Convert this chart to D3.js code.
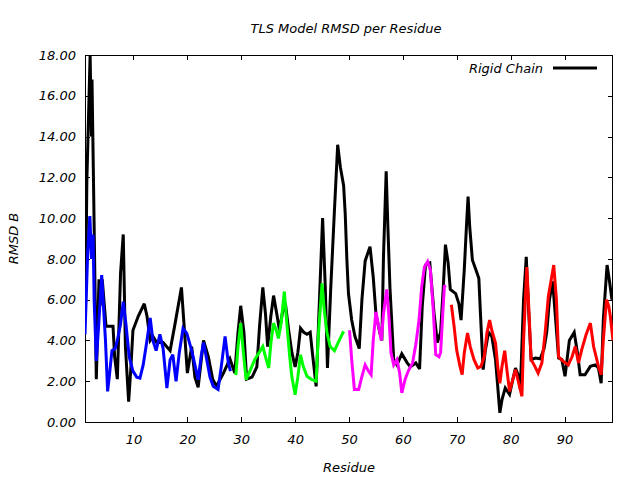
<!DOCTYPE html>
<html><head><meta charset="utf-8">
<script src="https://cdn.jsdelivr.net/npm/d3@7"></script>
<style>
html,body{margin:0;padding:0;background:#fff;}
text{font-family:"DejaVu Sans",sans-serif;font-style:italic;font-size:13px;fill:#000;}
</style></head>
<body>
<script>
const title = "TLS Model RMSD per Residue";
const xLabel = "Residue";
const yLabel = "RMSD B";
const legendLabel = "Rigid Chain";
const xTicks = [10,20,30,40,50,60,70,80,90];
const yTicks = [0,2,4,6,8,10,12,14,16,18];

// Rigid chain (black)
const blackRes = [1.1,1.35,1.95,2.2,2.3,2.6,3.1,3.6,3.8,4.2,4.9,5.7,6.2,6.5,7.0,7.6,8.1,8.5,9.1,9.5,9.9,10.9,12.0,12.5,13.1,13.6,14.3,15.5,16.8,17.7,18.9,19.4,20.0,20.8,21.4,22.0,23.0,23.9,24.7,25.4,26.7,27.9,28.8,29.4,29.9,30.5,31.0,32.0,32.9,33.4,34.0,34.5,34.9,35.5,36.0,36.6,37.1,37.6,38.2,38.8,39.4,40.0,40.5,41.0,41.6,42.2,42.8,43.2,43.9,44.3,44.8,45.1,45.6,46.0,46.6,47.3,47.9,48.4,49.0,49.3,49.6,49.9,50.5,51.1,51.9,52.4,53.0,53.9,54.5,55.0,55.7,56.1,56.4,56.9,57.2,57.6,58.3,58.9,59.8,60.8,61.4,62.4,63.1,63.6,64.2,65.0,65.8,66.4,67.0,67.5,67.9,68.4,68.8,69.8,70.4,70.8,71.4,71.8,72.1,72.4,72.9,73.5,74.1,74.4,74.9,75.3,75.9,76.5,77.2,77.5,78.0,78.4,79.0,79.8,80.4,80.9,81.5,81.8,82.4,82.9,83.3,83.8,84.6,85.5,86.2,86.7,87.2,87.8,88.3,88.9,89.5,90.1,90.9,91.8,92.4,92.9,93.8,94.8,95.7,96.3,96.8,97.2,97.9,98.3,98.8,99.0];
const blackVal = [5.7,11.9,18.0,14.0,16.8,11.4,2.1,7.0,5.7,7.0,4.7,4.7,4.7,3.2,2.1,7.3,9.2,3.7,1.0,2.6,4.5,5.2,5.8,5.2,4.0,4.2,3.9,3.9,3.5,4.8,6.6,4.7,2.4,3.7,2.2,1.7,4.0,3.2,2.1,1.75,2.4,3.1,2.4,4.4,5.7,4.4,2.1,2.2,2.7,4.7,6.6,5.3,3.7,5.2,6.2,5.3,4.5,5.3,5.8,4.5,3.4,2.7,3.4,4.6,4.4,4.3,4.4,3.4,1.75,4.5,7.95,10.0,6.6,2.65,6.5,10.4,13.6,12.5,11.6,10.2,8.0,6.3,5.0,4.2,3.6,6.0,7.9,8.6,7.1,5.3,4.4,4.0,8.1,12.3,9.7,6.6,3.06,2.8,3.35,2.9,2.7,2.9,2.6,5.7,7.7,7.8,5.3,3.9,4.4,6.6,8.7,7.8,6.5,6.3,5.8,5.0,7.5,9.6,11.05,9.6,7.95,7.5,7.05,5.3,2.57,3.5,4.4,4.2,3.05,2.08,0.45,1.1,1.67,1.35,2.08,2.65,2.24,1.6,6.0,8.1,5.7,3.06,3.14,3.1,3.6,4.4,6.0,6.9,5.2,3.14,3.06,2.24,4.0,4.4,3.4,2.32,2.32,2.73,2.8,2.65,1.9,5.0,7.7,7.0,6.0,6.2];

// TLS group 1 (blue)
const blueRes = [1.0,1.5,1.9,2.2,2.5,2.7,3.1,3.5,4.1,4.4,4.8,5.2,5.5,6.0,6.6,7.0,7.6,8.1,8.6,9.2,9.9,10.6,11.2,11.8,12.5,13.1,13.6,14.2,14.9,15.5,16.2,16.8,17.3,17.9,18.5,19.2,19.9,20.8,21.4,22.0,22.6,23.0,23.6,24.2,24.8,25.7,26.3,27.0,27.6,28.0];
const blueVal = [4.3,8.3,10.1,8.0,9.2,6.0,3.0,4.6,7.2,5.8,4.0,1.5,2.2,3.5,3.6,4.0,4.8,5.9,4.8,3.2,2.5,2.2,2.15,2.8,4.0,5.1,4.0,3.5,4.3,3.6,1.66,3.05,3.3,2.0,3.4,4.6,4.35,3.5,2.8,2.07,3.3,3.9,3.05,2.2,1.75,1.6,2.73,4.2,2.9,2.5];

// TLS group 2 (green)
const greenRes = [29.0,29.4,29.9,30.4,30.9,31.6,32.5,33.3,34.0,34.5,35.1,35.5,36.0,36.5,36.9,37.4,38.0,38.5,39.0,39.4,40.0,40.5,41.0,41.5,42.2,43.1,43.9,44.3,45.0,45.4,45.9,46.5,47.3,48.1,49.0];
const greenVal = [2.3,3.7,4.85,3.4,2.08,2.5,3.06,3.4,3.7,3.2,2.65,3.87,4.85,4.5,4.1,4.85,6.4,4.7,3.2,2.2,1.34,2.2,3.3,2.73,2.24,2.08,2.0,4.2,6.8,5.5,4.4,3.7,3.5,3.95,4.45];

// TLS group 3 (magenta)
const magentaRes = [50.1,50.5,51.0,51.8,52.4,53.0,53.6,54.1,54.5,55.0,55.5,56.0,56.4,57.0,57.4,57.8,58.3,58.9,59.4,59.8,60.4,61.0,61.8,62.4,63.0,63.5,64.0,64.6,65.1,65.6,66.1,66.7,67.0,67.4,67.7,68.0];
const magentaVal = [4.5,3.06,1.6,1.6,2.24,2.8,2.5,2.32,4.0,5.4,4.7,4.0,5.3,6.5,5.2,3.4,2.8,3.06,2.4,1.43,2.08,2.5,2.9,3.8,5.0,6.65,7.6,7.87,7.46,5.67,3.3,3.2,3.4,5.3,6.65,6.7];

// TLS group 4 (red)
const redRes = [69.0,69.5,70.0,70.6,71.0,71.4,72.0,72.5,73.2,73.9,74.5,75.1,75.6,76.1,76.5,77.2,77.6,78.0,78.4,78.9,79.3,79.8,80.4,80.9,81.5,82.1,82.4,83.0,83.3,83.8,84.5,85.1,85.8,86.4,87.0,88.0,88.5,88.9,89.8,90.7,91.4,92.0,92.6,93.2,94.0,94.8,95.4,96.3,96.8,97.2,97.8,98.2,98.5,99.0];
const redVal = [5.75,4.7,3.5,2.73,2.32,3.4,4.36,3.7,3.06,2.65,2.73,3.2,4.36,5.0,4.5,3.87,2.73,1.9,2.73,3.5,2.57,1.5,2.08,2.57,1.9,1.26,4.0,7.6,6.0,3.06,2.73,2.4,2.9,4.36,6.16,7.7,6.0,3.2,2.97,2.8,3.2,3.7,2.9,3.55,4.28,4.85,3.7,2.73,2.32,4.0,6.0,5.7,5.2,4.0];

const series = [
  {res: blackRes, val: blackVal, color: "#000000"},
  {res: blueRes, val: blueVal, color: "#0000ff"},
  {res: greenRes, val: greenVal, color: "#00ff00"},
  {res: magentaRes, val: magentaVal, color: "#ff00ff"},
  {res: redRes, val: redVal, color: "#ff0000"}
];

const W = 640, H = 480;
const m = {left: 85, right: 613, top: 55, bottom: 422};

const svg = d3.select("body").append("svg").attr("width", W).attr("height", H);
const x = d3.scaleLinear().domain([1, 99]).range([m.left, m.right]);
const y = d3.scaleLinear().domain([0, 18]).range([m.bottom, m.top]);

svg.append("defs").append("clipPath").attr("id","clip")
  .append("rect").attr("x", m.left).attr("y", m.top).attr("width", m.right-m.left).attr("height", m.bottom-m.top);

// axes: inward ticks, labels
const tl = 5;
const fmt = d3.format(".2f");
const gx = svg.append("g").attr("transform", `translate(0,${m.bottom})`)
  .call(d3.axisBottom(x).tickValues(xTicks).tickSize(-tl).tickPadding(13).tickFormat(d3.format("d")));
const gxt = svg.append("g").attr("transform", `translate(0,${m.top})`)
  .call(d3.axisTop(x).tickValues(xTicks).tickSize(-tl).tickFormat(""));
const gy = svg.append("g").attr("transform", `translate(${m.left},0)`)
  .call(d3.axisLeft(y).tickValues(yTicks).tickSize(-tl).tickPadding(9).tickFormat(fmt));
const gyr = svg.append("g").attr("transform", `translate(${m.right},0)`)
  .call(d3.axisRight(y).tickValues(yTicks).tickSize(-tl).tickFormat(""));
[gx,gxt,gy,gyr].forEach(g => {
  g.select(".domain").remove();
  g.selectAll(".tick line").attr("stroke","#000").attr("shape-rendering","crispEdges");
  g.selectAll("text").attr("font-family",null).attr("font-size",null).style("font-style","italic");
});
gx.selectAll(".tick text").attr("dy","0.71em");

// border
svg.append("rect").attr("x", m.left+0.5).attr("y", m.top+0.5)
  .attr("width", m.right-m.left-1).attr("height", m.bottom-m.top)
  .attr("fill","none").attr("stroke","#000").attr("stroke-width",1).attr("shape-rendering","crispEdges");

// lines
const gl = svg.append("g").attr("clip-path","url(#clip)");
series.forEach(s => {
  const pts = s.res.map((r,i) => [r, s.val[i]]);
  gl.append("path").datum(pts)
    .attr("d", d3.line().x(d => x(d[0])).y(d => y(d[1])))
    .attr("fill","none").attr("stroke", s.color).attr("stroke-width", 3)
    .attr("stroke-linejoin","miter").attr("stroke-miterlimit", 3);
});

// title & labels
svg.append("text").attr("x", 346).attr("y", 33).attr("text-anchor","middle").text(title);
svg.append("text").attr("x", (m.left+m.right)/2).attr("y", 472).attr("text-anchor","middle").text(xLabel);
svg.append("text").attr("transform", `translate(18,${(m.top+m.bottom)/2}) rotate(-90)`)
  .attr("text-anchor","middle").text(yLabel);

// legend
svg.append("text").attr("x", 543).attr("y", 73).attr("text-anchor","end").text(legendLabel);
svg.append("line").attr("x1", 553).attr("x2", 597).attr("y1", 68).attr("y2", 68)
  .attr("stroke","#000").attr("stroke-width",3);
</script>
</body></html>
